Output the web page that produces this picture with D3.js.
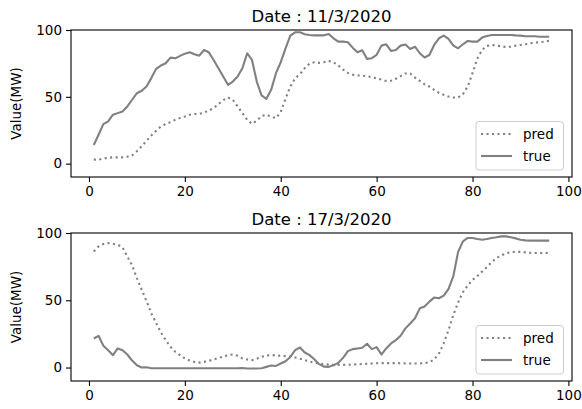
<!DOCTYPE html>
<html>
<head>
<meta charset="utf-8">
<script src="https://cdn.jsdelivr.net/npm/d3@7"></script>
<style>
  body { margin: 0; background: #fff; }
  svg text { font-family: "DejaVu Sans", sans-serif; fill: #000; }
  .axis path, .axis line { stroke: #000; stroke-width: 1.1; }
  .axis text { font-size: 13.5px; }
</style>
</head>
<body>
<div id="chart"></div>
<script>
const steps = [1,2,3,4,5,6,7,8,9,10,11,12,13,14,15,16,17,18,19,20,21,22,23,24,25,26,27,28,29,30,31,32,
  33,34,35,36,37,38,39,40,41,42,43,44,45,46,47,48,49,50,51,52,53,54,55,56,57,58,59,60,61,62,63,64,
  65,66,67,68,69,70,71,72,73,74,75,76,77,78,79,80,81,82,83,84,85,86,87,88,89,90,91,92,93,94,95,96];

const dates = ["11/3/2020", "17/3/2020"];

const true1 = [14,21.6,29.6,31.6,36.6,37.8,39,42.8,47.8,52.7,54.5,57.7,64,70.9,73.4,75.1,79.3,78.8,80.6,82.3,
  83.3,81.8,80.8,85,83.3,77.6,71.4,65.2,59,61.4,65.2,71.4,82.6,77.6,61.4,51,48.5,55.2,67.7,75.9,
  86.3,95.8,98.3,98.3,96.8,96.3,96,96,96,97,93.8,91.3,91.3,90.8,86.8,83.3,84.8,78.4,78.9,81.4,
  88.3,89.3,84.3,85.1,88.3,89.2,85.8,87.5,82.6,79.4,81.3,88.8,93.8,95.8,93.3,88.3,86.3,89.3,91.8,91.3,
  91.3,94.3,95.5,96.3,96.3,96.3,96.3,96.3,96,95.8,95.3,95.3,95.3,95,95,95];
const pred1 = [3,3,3.8,4.4,4.7,4.7,4.7,5.2,6.2,9.2,13,17.1,21.1,24.6,27.8,29.6,31.1,32.8,34.1,35.3,
  36.6,37.1,37.1,38.3,39.6,41.6,44.6,47.5,49.5,47.8,42.8,37.8,32.8,29.8,32.1,35.6,36.6,35.1,34.1,38.6,
  48.5,57.7,63.9,66.9,71.4,74.9,75.9,75.4,75.9,76.9,75.9,73.4,70.4,67.9,66.6,65.9,65.9,65.4,64.7,63.7,
  62.9,61.9,62,63.5,65.5,67.5,67.5,64.4,61.9,59.4,57.7,55.2,53,51.5,50.2,49.5,49.5,52,57.7,67.7,
  78.4,85.1,88.1,88.8,88.3,87.8,87.3,87.5,88.3,88.8,89.3,90,90.6,90.8,91.3,92];

const true2 = [21.6,23.6,16.2,12.9,9.2,14.2,12.9,9.7,5.2,1.7,0,0.2,-0.5,-0.5,-0.5,-0.5,-0.5,-0.5,-0.5,-0.5,
  -0.5,-0.5,-0.5,-0.5,-0.5,-0.5,-0.5,-0.5,-0.5,-0.5,-0.5,-0.3,-0.7,-0.7,-0.7,-0.5,0.5,1.5,1.2,3,
  4.7,7.9,12.9,14.9,11.2,9.2,6.2,2.5,0.7,0.5,1.7,3.5,7.2,12.2,13.7,14.2,14.7,17.7,13.7,15.2,
  9.7,14.2,17.9,20.4,23.6,29.1,32.8,36.6,44,45.3,49,52,51.5,53.5,58.5,68,86,93.8,96.3,96.3,
  95.5,95,95.5,96.3,96.8,97.5,97.5,96.8,96,95,94.5,94.3,94.3,94.3,94.3,94.3];
const pred2 = [86.3,90,91.8,92.5,92,91.3,89.3,82.6,75.9,66.4,57.7,49.5,40.3,33.3,26.1,20.4,15.4,11.7,9.2,6.7,
  5.2,4.2,3.7,4.2,5,6,7.2,8.2,9.2,9.7,8.7,6.7,6,5.5,6.5,8,9,9.3,9,8.7,
  8.5,8,7.5,6.5,5.5,4.5,3.5,3,2.5,2.2,2,2,2,2.1,2.2,2.4,2.6,2.8,3,3.2,
  3.3,3.3,3.3,3.3,3.2,3.1,3,3,3.1,3.2,4,6,10.5,18,27.9,39.1,48.5,56,61,65.2,
  67.9,71.4,74.6,78.4,81.3,83.3,84.8,85.8,86,86,85.6,85.3,85.1,85.1,85.1,85.3];

const xTicks = [0, 20, 40, 60, 80, 100];
const yTicks = [0, 50, 100];
const seriesNames = ["pred", "true"];

const W = 582, H = 409;
const panels = [
  { top: 30, bottom: 177, date: dates[0], pred: pred1, truth: true1 },
  { top: 233, bottom: 381, date: dates[1], pred: pred2, truth: true2 }
];
const left = 71, right = 572;
const lineColor = "#808080";

const svg = d3.select("#chart").append("svg")
  .attr("width", W).attr("height", H);

const x = d3.scaleLinear().domain([-3.75, 100.75]).range([left, right]);

panels.forEach(p => {
  const y = d3.scaleLinear().domain([-10, 100]).range([p.bottom, p.top]);
  const g = svg.append("g");

  const line = d3.line()
    .x((d, i) => x(steps[i]))
    .y(d => y(d));

  g.append("path")
    .datum(p.pred)
    .attr("fill", "none")
    .attr("stroke", lineColor)
    .attr("stroke-width", 2.1)
    .attr("stroke-dasharray", "2.1,3.4")
    .attr("d", line);

  g.append("path")
    .datum(p.truth)
    .attr("fill", "none")
    .attr("stroke", lineColor)
    .attr("stroke-width", 2.1)
    .attr("stroke-linejoin", "round")
    .attr("d", line);

  // frame
  g.append("rect")
    .attr("x", left).attr("y", p.top)
    .attr("width", right - left).attr("height", p.bottom - p.top)
    .attr("fill", "none").attr("stroke", "#000").attr("stroke-width", 1.1);

  g.append("g")
    .attr("class", "axis")
    .attr("transform", `translate(0,${p.bottom})`)
    .call(d3.axisBottom(x).tickValues(xTicks).tickSize(5).tickPadding(4))
    .call(s => s.select(".domain").remove());

  g.append("g")
    .attr("class", "axis")
    .attr("transform", `translate(${left},0)`)
    .call(d3.axisLeft(y).tickValues(yTicks).tickSize(5).tickPadding(4))
    .call(s => s.select(".domain").remove());

  g.append("text")
    .attr("x", (left + right) / 2)
    .attr("y", p.top - 8)
    .attr("text-anchor", "middle")
    .attr("font-size", 16.5)
    .text(`Date : ${p.date}`);

  g.append("text")
    .attr("transform", `translate(21,${(p.top + p.bottom) / 2}) rotate(-90)`)
    .attr("text-anchor", "middle")
    .attr("font-size", 13.5)
    .text("Value(MW)");

  // legend
  const lg = g.append("g").attr("transform", `translate(476,${p.bottom - 55.5})`);
  lg.append("rect")
    .attr("width", 87.5).attr("height", 48.5).attr("rx", 3)
    .attr("fill", "#fff").attr("fill-opacity", 0.8)
    .attr("stroke", "#cccccc").attr("stroke-width", 1);
  seriesNames.forEach((name, i) => {
    const cy = 12.5 + i * 22;
    lg.append("line")
      .attr("x1", 5).attr("x2", 36).attr("y1", cy).attr("y2", cy)
      .attr("stroke", lineColor).attr("stroke-width", 2.1)
      .attr("stroke-dasharray", name === "pred" ? "2.1,3.4" : null);
    lg.append("text")
      .attr("x", 47).attr("y", cy).attr("dy", "0.35em")
      .attr("font-size", 13.5)
      .text(name);
  });
});
</script>
</body>
</html>
